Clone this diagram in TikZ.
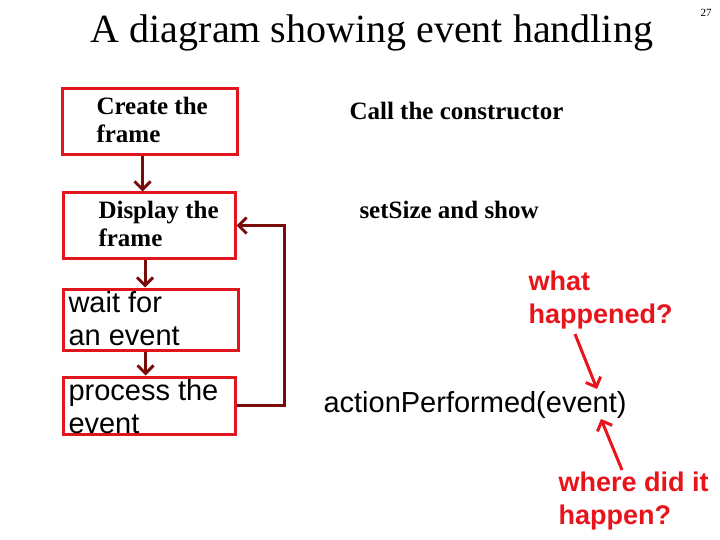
\documentclass[tikz,border=0pt]{standalone}
\usepackage{fontspec}
\setmainfont{Liberation Serif}
\setsansfont{Liberation Sans}
\usetikzlibrary{arrows.meta}
\definecolor{boxred}{HTML}{E0151D}
\definecolor{flowred}{HTML}{7A0B0B}
\definecolor{notered}{HTML}{E8141B}
\begin{document}
\begin{tikzpicture}[x=1pt,y=-1pt,line width=3pt,
  box/.style={draw=boxred,minimum width=175pt,minimum height=66pt,inner sep=0pt},
  flow/.style={draw=flowred,-{Straight Barb[length=8pt,width=16pt,line width=3pt]}},
  note/.style={draw=notered,-{Straight Barb[length=8pt,width=16pt,line width=3pt]}},
  serifbold/.style={font=\fontsize{25}{28}\selectfont\bfseries,align=left,inner sep=0pt},
  sanstext/.style={font=\fontsize{29}{33}\selectfont\sffamily,align=left,inner sep=0pt},
  redtext/.style={font=\fontsize{27}{33}\selectfont\sffamily\bfseries,text=notered,align=left,inner sep=0pt}]
\useasboundingbox (0,0) rectangle (720,540);
\node (title) at (372,33) {\fontsize{40}{44}\selectfont A diagram showing event handling};
\node (page) at (706,13) {\fontsize{11}{12}\selectfont 27};

\node[box] (create) at (149.5,121.5) {};
\node[box,minimum width=172pt,minimum height=65pt] (display) at (149,225.5) {};
\node[box,minimum width=175pt,minimum height=61pt] (wait) at (150.5,319.5) {};
\node[box,minimum width=172pt,minimum height=57pt] (process) at (149,405.5) {};

\node[serifbold,anchor=west] (createtxt) at (95,120) {Create the\\frame};
\node[serifbold,anchor=west] (displaytxt) at (97,224) {Display the\\frame};
\node[sanstext,anchor=west] (waittxt) at (67,319) {wait for\\an event};
\node[sanstext,anchor=west] (processtxt) at (67,407) {process the\\event};

\draw[flow] ([xshift=-7pt]create.south) -- ([xshift=-7pt]create.south |- display.north);
\draw[flow] ([xshift=-4pt]display.south) -- ([xshift=-4pt]display.south |- wait.north);
\draw[flow] ([xshift=-5pt]wait.south) -- ([xshift=-5pt]wait.south |- process.north);
\draw[flow] (process.east) -- ++(48,0) |- (display.east);

\node[serifbold,anchor=west] (ctor) at (348,111) {Call the constructor};
\node[serifbold,anchor=west] (setsize) at (358,210) {setSize and show};
\node[sanstext,anchor=west] (action) at (322,405) {actionPerformed(event)};
\node[redtext,anchor=west] (what) at (527,300) {what\\happened?};
\node[redtext,anchor=west] (where) at (557,501) {where did it\\happen?};

\coordinate (whatfrom) at (575,334);
\coordinate (whatto) at (597,389);
\coordinate (wherefrom) at (622,470);
\coordinate (whereto) at (601,419);
\draw[note] (whatfrom) -- (whatto);
\draw[note] (wherefrom) -- (whereto);
\end{tikzpicture}
\end{document}
